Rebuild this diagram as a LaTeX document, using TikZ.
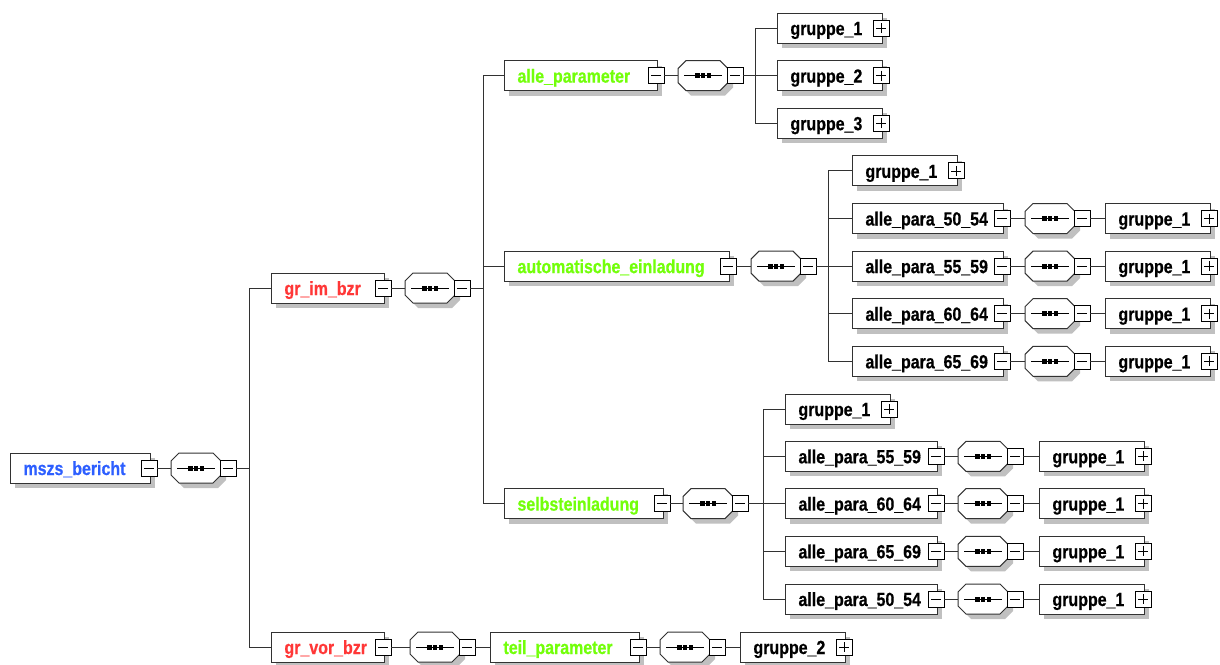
\documentclass[tikz,border=0pt]{standalone}
\usepackage{fontspec}
\newfontfamily\labfont[FakeStretch=0.84,FakeBold=0.6]{Liberation Sans Bold}
\usetikzlibrary{calc}
\definecolor{cblue}{RGB}{45,95,255}
\definecolor{cred}{RGB}{255,55,55}
\definecolor{cgreen}{RGB}{115,255,10}
\definecolor{cblack}{RGB}{0,0,0}
\definecolor{shadowgray}{RGB}{192,192,192}
\definecolor{lincol}{RGB}{50,50,50}

% element: name, left, right, y, colour, label, toggle (m/p)
\newcommand\elem[7]{%
  \pgfmathsetmacro\ew{#3-#2}%
  \pgfmathsetmacro\etw{#3-#2-26}%
  \fill[shadowgray] ({#2+5},{#4-10}) rectangle ({#3+5},{#4+20});
  \node[elbox, text=#5, minimum width=\ew pt, text width=\etw pt, anchor=west] (#1) at (#2,#4) {#6};
  \node[tog, tog#7] (#1-t) at ({#3-1},#4) {};
}
\newcommand\octpath[2]{({#1+8},{#2-15}) -- ({#1+42},{#2-15}) -- ({#1+50},{#2-7}) -- ({#1+50},{#2+7}) -- ({#1+42},{#2+15}) -- ({#1+8},{#2+15}) -- ({#1},{#2+7}) -- ({#1},{#2-7}) -- cycle}
% sequence compositor: name, left, y
\newcommand\seqc[3]{%
  \fill[shadowgray] \octpath{#2+5}{#3+5};
  \draw[lincol, line width=1pt, fill=white] \octpath{#2}{#3};
  \node[inner sep=0pt, minimum width=50pt, minimum height=30pt] (#1) at ({#2+25},#3) {};
  \draw[black, line width=1pt] ({#2+6},#3) -- ({#2+44},#3);
  \fill[black] ({#2+17},{#3-2.5}) rectangle ({#2+21.5},{#3+2.5});
  \fill[black] ({#2+22.8},{#3-2.5}) rectangle ({#2+27.3},{#3+2.5});
  \fill[black] ({#2+28.6},{#3-2.5}) rectangle ({#2+33.1},{#3+2.5});
  \node[tog, togm] (#1-t) at ({#2+57},#3) {};
}

\begin{document}
\begin{tikzpicture}[x=1pt,y=-1pt,
 elbox/.style={draw=lincol, fill=white, line width=1pt, minimum height=30pt,
   inner xsep=13pt, inner ysep=0pt, align=left, text height=15pt, text depth=1pt,
   font=\labfont\fontsize{19}{20}\selectfont},
 tog/.style={draw=black, fill=white, line width=0.9pt, minimum width=16pt,
   minimum height=16pt, inner sep=0pt},
 togm/.style={path picture={\draw[line width=0.8pt]
   ([xshift=3pt]path picture bounding box.west) -- ([xshift=-3pt]path picture bounding box.east);}},
 togp/.style={path picture={\draw[line width=0.8pt]
   ([xshift=3pt]path picture bounding box.west) -- ([xshift=-3pt]path picture bounding box.east)
   ([yshift=-3pt]path picture bounding box.north) -- ([yshift=3pt]path picture bounding box.south);}},
 conn/.style={draw=lincol, line width=1pt}]
\useasboundingbox (0,0) rectangle (1220,664);
\fill[white] (0,0) rectangle (1220,664);

% root
\elem{root}{10}{150}{468}{cblue}{mszs\_bericht}{m}
\seqc{s1}{171}{468}
\coordinate (v1) at (249,468);

% gr_im_bzr
\elem{grim}{271}{384}{288}{cred}{gr\_im\_bzr}{m}
\seqc{s2}{405}{288}
\coordinate (v2) at (483,288);

% alle_parameter
\elem{allp}{504}{657}{75.6}{cgreen}{alle\_parameter}{m}
\seqc{s3}{678}{75.6}
\coordinate (v3) at (755,75.6);
\elem{a1}{777}{882}{28}{cblack}{gruppe\_1}{p}
\elem{a2}{777}{882}{75.6}{cblack}{gruppe\_2}{p}
\elem{a3}{777}{882}{123.2}{cblack}{gruppe\_3}{p}

% automatische_einladung
\elem{auto}{504}{729}{266.1}{cgreen}{automatische\_einladung}{m}
\seqc{s4}{751}{266.1}
\coordinate (v4) at (828,266.1);
\elem{b0}{852}{957}{170.9}{cblack}{gruppe\_1}{p}
\elem{b1}{852}{1003}{218.5}{cblack}{alle\_para\_50\_54}{m}
\seqc{sb1}{1025}{218.5}
\elem{b1g}{1105}{1210}{218.5}{cblack}{gruppe\_1}{p}
\elem{b2}{852}{1003}{266.1}{cblack}{alle\_para\_55\_59}{m}
\seqc{sb2}{1025}{266.1}
\elem{b2g}{1105}{1210}{266.1}{cblack}{gruppe\_1}{p}
\elem{b3}{852}{1003}{313.7}{cblack}{alle\_para\_60\_64}{m}
\seqc{sb3}{1025}{313.7}
\elem{b3g}{1105}{1210}{313.7}{cblack}{gruppe\_1}{p}
\elem{b4}{852}{1003}{361.3}{cblack}{alle\_para\_65\_69}{m}
\seqc{sb4}{1025}{361.3}
\elem{b4g}{1105}{1210}{361.3}{cblack}{gruppe\_1}{p}

% selbsteinladung
\elem{selb}{504}{663}{503.6}{cgreen}{selbsteinladung}{m}
\seqc{s5}{683}{503.6}
\coordinate (v5) at (763,503.6);
\elem{c0}{785}{890}{409}{cblack}{gruppe\_1}{p}
\elem{c1}{785}{937}{456.3}{cblack}{alle\_para\_55\_59}{m}
\seqc{sc1}{958}{456.3}
\elem{c1g}{1039}{1144}{456.3}{cblack}{gruppe\_1}{p}
\elem{c2}{785}{937}{503.6}{cblack}{alle\_para\_60\_64}{m}
\seqc{sc2}{958}{503.6}
\elem{c2g}{1039}{1144}{503.6}{cblack}{gruppe\_1}{p}
\elem{c3}{785}{937}{551.3}{cblack}{alle\_para\_65\_69}{m}
\seqc{sc3}{958}{551.3}
\elem{c3g}{1039}{1144}{551.3}{cblack}{gruppe\_1}{p}
\elem{c4}{785}{937}{599}{cblack}{alle\_para\_50\_54}{m}
\seqc{sc4}{958}{599}
\elem{c4g}{1039}{1144}{599}{cblack}{gruppe\_1}{p}

% gr_vor_bzr
\elem{grvor}{271}{384}{647}{cred}{gr\_vor\_bzr}{m}
\seqc{s6}{410}{647}
\elem{teil}{490}{639}{647}{cgreen}{teil\_parameter}{m}
\seqc{s7}{660}{647}
\elem{g2}{740}{845}{647}{cblack}{gruppe\_2}{p}

% connectors
\draw[conn] (root-t.east) -- (s1.west);
\draw[conn] (s1-t.east) -- (v1);
\draw[conn] (v1 |- grim.west) -- (v1 |- grvor.west);
\draw[conn] (v1 |- grim.west) -- (grim.west);
\draw[conn] (v1 |- grvor.west) -- (grvor.west);

\draw[conn] (grim-t.east) -- (s2.west);
\draw[conn] (s2-t.east) -- (v2);
\draw[conn] (v2 |- allp.west) -- (v2 |- selb.west);
\foreach \n in {allp,auto,selb} \draw[conn] (v2 |- \n.west) -- (\n.west);

\draw[conn] (allp-t.east) -- (s3.west);
\draw[conn] (s3-t.east) -- (v3);
\draw[conn] (v3 |- a1.west) -- (v3 |- a3.west);
\foreach \n in {a1,a2,a3} \draw[conn] (v3 |- \n.west) -- (\n.west);

\draw[conn] (auto-t.east) -- (s4.west);
\draw[conn] (s4-t.east) -- (v4);
\draw[conn] (v4 |- b0.west) -- (v4 |- b4.west);
\foreach \n in {b0,b1,b2,b3,b4} \draw[conn] (v4 |- \n.west) -- (\n.west);
\foreach \i in {1,2,3,4} {
  \draw[conn] (b\i-t.east) -- (sb\i.west);
  \draw[conn] (sb\i-t.east) -- (b\i g.west);
}

\draw[conn] (selb-t.east) -- (s5.west);
\draw[conn] (s5-t.east) -- (v5);
\draw[conn] (v5 |- c0.west) -- (v5 |- c4.west);
\foreach \n in {c0,c1,c2,c3,c4} \draw[conn] (v5 |- \n.west) -- (\n.west);
\foreach \i in {1,2,3,4} {
  \draw[conn] (c\i-t.east) -- (sc\i.west);
  \draw[conn] (sc\i-t.east) -- (c\i g.west);
}

\draw[conn] (grvor-t.east) -- (s6.west);
\draw[conn] (s6-t.east) -- (teil.west);
\draw[conn] (teil-t.east) -- (s7.west);
\draw[conn] (s7-t.east) -- (g2.west);
\end{tikzpicture}
\end{document}
